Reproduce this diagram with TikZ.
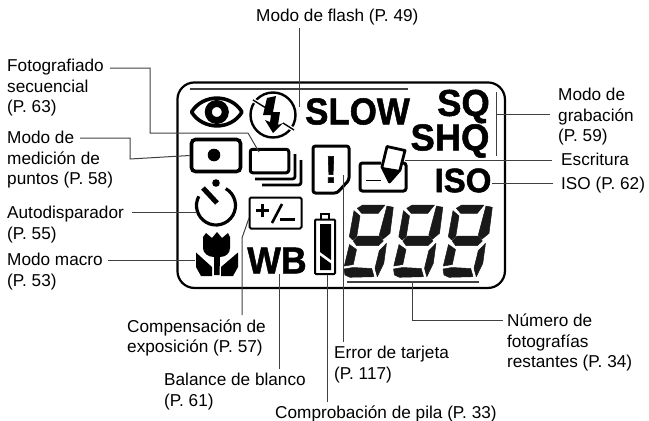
\documentclass[tikz,border=0pt]{standalone}
\usepackage{fontspec}
\setmainfont{Liberation Sans}
\newfontfamily\lcdfont[BoldFeatures={FakeBold=1.4}]{Liberation Sans}
\tikzset{lbl/.style={inner sep=0pt,align=left,anchor=north west,font=\fontsize{17.2}{20.4}\selectfont},
lead/.style={draw=black!75,line width=1pt},
lcdtext/.style={inner sep=0pt,font=\fontsize{37.5}{38}\lcdfont\bfseries},
icon/.style={draw,line width=3pt,rounded corners=2.5pt},
seg/.style={fill=black!90,draw=black!90,line width=.5pt,line join=round}}
\newcommand{\lcddigit}{%
\path[seg] (17.3,28.3)--(22.7,25)--(45,25)--(38.3,33.3)--(21.7,33.3)--cycle;
\path[seg] (14,30.7)--(20,36)--(16.7,56.7)--(12.7,60)--(9.3,56.7)--cycle;
\path[seg] (47,26)--(53.3,27.3)--(50,53.3)--(42.7,59.3)--(39.3,55)--cycle;
\path[seg] (13.3,61)--(18.3,56)--(39.3,56)--(43.3,61)--(38.3,65.7)--(16.7,65.7)--cycle;
\path[seg] (9.5,64.5)--(16.5,69.5)--(13.3,84.5)--(4.3,86)--cycle;
\path[seg] (39.3,70.7)--(46.5,63.3)--(43.8,83.3)--(37.3,96.7)--(35,88.3)--cycle;
\path[seg] (4,89)--(13,87.5)--(31.7,88.5)--(34,96.7)--(10,97.3)--(5,95)--cycle;}
\begin{document}
\begin{tikzpicture}[x=1pt,y=-1pt]
\useasboundingbox (0,0) rectangle (649,421);
% labels
\node[lbl] (flashlbl) at (256,9) {Modo de flash (P. 49)};
\node[lbl] (seqlbl) at (7,59) {Fotografiado\\secuencial\\(P. 63)};
\node[lbl] (spotlbl) at (7,131) {Modo de\\medición de\\puntos (P. 58)};
\node[lbl] (timerlbl) at (7,206) {Autodisparador\\(P. 55)};
\node[lbl] (macrolbl) at (7,253) {Modo macro\\(P. 53)};
\node[lbl] (complbl) at (127,319.5) {Compensación de\\exposición (P. 57)};
\node[lbl] (wblbl) at (164,373) {Balance de blanco\\(P. 61)};
\node[lbl] (battlbl) at (275,405.5) {Comprobación de pila (P. 33)};
\node[lbl] (errlbl) at (334,346) {Error de tarjeta\\(P. 117)};
\node[lbl] (numlbl) at (507,314) {Número de\\fotografías\\restantes (P. 34)};
\node[lbl] (reclbl) at (558,88) {Modo de\\grabación\\(P. 59)};
\node[lbl] (writelbl) at (561,153) {Escritura};
\node[lbl] (isolbl) at (561,177) {ISO (P. 62)};
% lcd frame
\node[draw,line width=2.2pt,rounded corners=17pt,minimum width=327.5pt,minimum height=205.5pt,inner sep=0pt] (lcd) at (341.2,185.2) {};
\coordinate (topl) at (190,89);\coordinate (topr) at (408,89);
\draw[lead,line width=1.2pt] (topl)--(topr);
\coordinate (bra) at (496,92);\coordinate (brb) at (496,156);
\draw[lead,line width=.8pt] (bra)--(brb);
\coordinate (digl) at (347,282);\coordinate (digr) at (479,282);
\draw[lead,line width=1.2pt] (digl)--(digr);
% lcd words
\node[lcdtext,xscale=.93] (slow) at (357.5,111.5) {SLOW};
\node[lcdtext,xscale=.97] (sq) at (463.5,106.5) {SQ};
\node[lcdtext,xscale=.97] (shq) at (450,141) {SHQ};
\node[lcdtext,font=\fontsize{34}{35}\lcdfont\bfseries,xscale=.97] (iso) at (463,180.5) {ISO};
\node[lcdtext,xscale=.95] (wb) at (277,260.5) {WB};
% eye
\draw[line width=3.6pt,line join=round] (191.5,112) .. controls (203,93.5) and (231,93.5) .. (242,112) .. controls (231,130.5) and (203,130.5) .. (191.5,112)--cycle;
\node[circle,draw,line width=7pt,minimum size=17pt,inner sep=0pt] (iris) at (216.8,112) {};
% flash
\node[circle,draw,line width=2.4pt,minimum size=45pt,inner sep=0pt] (flashring) at (273,115) {};
\draw[white,line width=4pt] (253,100)--(266,108) (283,123)--(294,130);
\draw[line width=1.4pt] (253,100)--(266,108) (283,123)--(294,130);
\fill (267,98)--(276,96)--(273,112)--(280,112)--(278,125)--(283,123)--(273,133)--(265,120)--(270,122)--(271,115)--(263,115)--cycle;
% spot metering
\node[icon,line width=3.6pt,rounded corners=4pt,minimum width=49pt,minimum height=32pt,inner sep=0pt] (spot) at (216,155.5) {};
\fill (214,155) circle (6.3);
% sequential shooting
\node[icon,minimum width=38.5pt,minimum height=23.5pt,inner sep=0pt] (seq) at (269.5,161) {};
\draw[line width=2.8pt,rounded corners=2.5pt] (255,179)--(295,179)--(295,154);
\draw[line width=2.8pt,rounded corners=2.5pt] (262,185)--(301,185)--(301,160);
% card error
\draw[icon] (313,146)--(349,146)--(349,180)--(337,193)--(313,193)--cycle;
\node[inner sep=0pt,font=\fontsize{38}{38}\lcdfont\bfseries] (bang) at (331,169.5) {!};
% writing
\draw[icon] (381,163)--(360,163)--(360,191)--(406,191)--(406,163)--(401,163);
\coordinate (dasha) at (366,180);\coordinate (dashb) at (381,180);
\draw[line width=1pt] (dasha)--(dashb);
\draw[line width=2.8pt,line join=round,fill=white] (387,146.5)--(405,150.5)--(400,170)--(389.5,182)--(382,167)--cycle;
\fill (382,167)--(400,170)--(389.5,183)--cycle;
% timer
\draw[line width=3.2pt] (225.75,188.6) arc[start angle=-60,end angle=208,radius=19.5];
\fill (216,183) circle (3.8);
\draw[line width=5pt] (203,188)--(217,203);
% compensation
\node[draw,line width=2pt,rounded corners=1.5pt,minimum width=52pt,minimum height=31pt,inner sep=0pt] (comp) at (275.5,213) {};
\draw[line width=3pt] (256,210.5)--(269,210.5) (262.5,204)--(262.5,217);
\draw[line width=2.6pt] (272,223)--(282,204);
\draw[line width=3pt] (280,219.5)--(295,219.5);
% macro
\fill (203,237)--(206,233)--(212,238)--(217,232)--(222,238)--(228,233)--(230,237)--(230,248) .. controls (230,253) and (226,257) .. (220,257)--(219.5,275)--(214,275)--(214,257) .. controls (208,257) and (203,253) .. (203,248)--cycle;
\fill (196,252.5)--(212,267)--(212,276)--(201,276)--(196,267)--cycle;
\fill (238,252.5)--(238,267)--(233,276)--(221,276)--(221,267)--cycle;
% battery
\draw[line width=2pt,rounded corners=1pt] (315,219.5) rectangle (335,274);
\draw[line width=1.8pt] (321,219)--(321,214)--(329,214)--(329,219);
\fill (320,224) -- (331,224) -- (331,260) -- (320,252) -- cycle;
\fill (320,255.5)--(331,263.5)--(331,270)--(320,270)--cycle;
% digits
\foreach \dx in {0,49.5,99} {
\begin{scope}[shift={(340+\dx,180)}]
\lcddigit
\end{scope}}
% leaders
\coordinate (flasha) at (299,28);\coordinate (flashb) at (299,107);
\draw[lead] (flasha)--(flashb);
\coordinate (seqa) at (110,68);\coordinate (seqb) at (259,152);
\draw[lead] (seqa)--(150,68)--(150,133)--(248,133)--(seqb);
\coordinate (spota) at (80,138);
\draw[lead] (spota)--(130,138)--(130,159)--(spot.west);
\coordinate (timera) at (132,212);\coordinate (timerb) at (197,212);
\draw[lead] (timera)--(timerb);
\coordinate (macroa) at (108,260);\coordinate (macrob) at (195,260);
\draw[lead] (macroa)--(macrob);
\coordinate (compa) at (242,315);\coordinate (compb) at (249,218);
\draw[lead] (compa)--(242,238)--(compb);
\coordinate (wba) at (279,274);\coordinate (wbb) at (279,369);
\draw[lead] (wba)--(wbb);
\coordinate (batta) at (327,275);\coordinate (battb) at (327,402);
\draw[lead] (batta)--(battb);
\coordinate (erra) at (343,175);\coordinate (errb) at (343,342);
\draw[lead] (erra)--(errb);
\coordinate (numa) at (412,282);\coordinate (numb) at (503,320);
\draw[lead] (numa)--(412,320)--(numb);
\coordinate (reca) at (496,114);\coordinate (recb) at (550,114);
\draw[lead] (reca)--(recb);
\coordinate (writea) at (405,160);\coordinate (writeb) at (552,160);
\draw[lead] (writea)--(writeb);
\coordinate (isoa) at (492,183);\coordinate (isob) at (553,183);
\draw[lead] (isoa)--(isob);
\end{tikzpicture}
\end{document}
